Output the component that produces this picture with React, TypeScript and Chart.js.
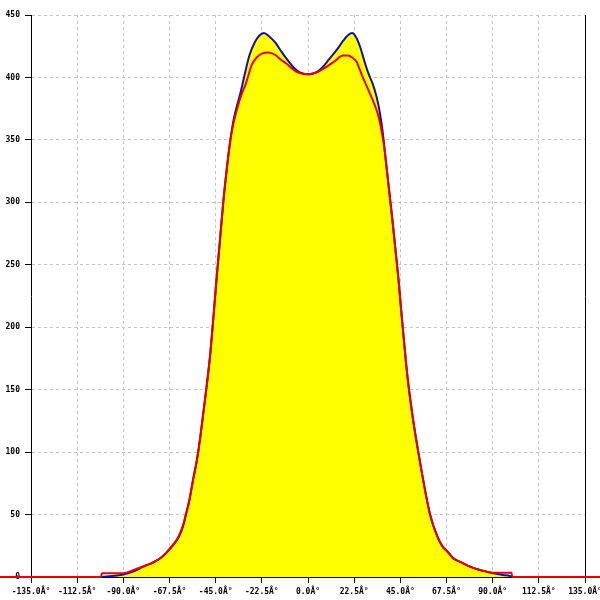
import React, { useEffect, useRef } from "react";
import { Chart, registerables } from "chart.js";

Chart.register(...registerables);

const xTickValues = [-135, -112.5, -90, -67.5, -45, -22.5, 0, 22.5, 45, 67.5, 90, 112.5, 135];
const xTickLabels = [
  "-135.0Â°", "-112.5Â°", "-90.0Â°", "-67.5Â°", "-45.0Â°", "-22.5Â°", "0.0Â°",
  "22.5Â°", "45.0Â°", "67.5Â°", "90.0Â°", "112.5Â°", "135.0Â°",
];
const yTickValues = [0, 50, 100, 150, 200, 250, 300, 350, 400, 450];

const blueAngles = [
  -100.5, -97, -93, -90, -85, -80, -75, -72, -69, -67, -65, -63, -61, -59.5, -58, -56, -54, -52.5,
  -50.2, -47.8, -46, -44.5, -43, -41.3, -39.5, -38, -36.5, -35, -33.5, -32, -30.5, -28.5, -26, -24,
  -21.5, -19, -16, -13.5, -10, -7, -4, 0, 4, 7, 10, 14, 17, 19, 21.5, 23.5, 25.5, 27.5, 29.5, 31.5,
  33.5, 35, 36.5, 38, 39.5, 41, 42.5, 44, 45.5, 47, 48.5, 51.3, 54.6, 57.8, 59.5, 61.1, 62.7,
  64.3, 66, 67.6, 70.8, 75, 79, 83, 87, 90.3, 95, 98.4, 99.5,
];
const blueValues = [
  0, 0.6, 1.2, 2, 4.5, 8.5, 12, 15, 19.5, 23, 27, 32, 40, 50, 60, 78, 95, 112,
  142, 176, 210, 240, 268, 300, 328, 348, 364, 375, 384, 394, 405, 418, 428, 433,
  435.5, 433, 428, 422, 414, 408, 404, 402.5, 404, 408, 414, 422, 429, 433, 435.5, 432, 424, 413, 403, 395,
  384, 372, 355, 332, 310, 288, 264, 240, 212, 185, 160, 125, 92, 63, 50, 41,
  34, 28, 23.5, 21, 15, 11.5, 8.3, 6, 4.3, 3, 1.6, 0.8, 0,
];

const redAngles = [
  -200, -100.8, -100.5, -90, -85, -78.6, -72, -69, -67.3, -65, -63.2, -61, -59.5, -58, -56, -54,
  -52.5, -50.2, -47.8, -46, -44.5, -43, -41.3, -39.5, -38, -36.5, -34.7, -32.5, -30.5, -29, -27.4, -25,
  -22, -19.3, -16, -13, -10.4, -7, -4, 0, 4, 9, 13, 17, 19.6, 21.5, 23.7, 25.3, 27, 28.6, 30.2,
  32.5, 34.5, 36, 37.5, 39.5, 41, 42.5, 44, 45.5, 47, 48.5, 51.3, 54.6, 57.8, 59.5, 61.1,
  62.7, 64.3, 66, 67.6, 70.8, 75, 79, 83, 87, 90, 99.2, 99.5, 200,
];
const redValues = [
  0, 0, 3, 3, 5.6, 9.6, 15, 19.5, 23, 27.5, 32, 41, 50, 60, 78, 95,
  112, 142, 176, 210, 240, 268, 300, 328, 348, 362, 374, 386, 394, 402, 410, 416,
  419.5, 420, 418, 414, 411, 406, 403.5, 402.5, 404, 408.5, 413, 417.5, 417.5, 416, 412.5, 406, 399, 393, 387,
  378, 368, 356, 340, 310, 288, 264, 240, 212, 185, 160, 125, 92, 63, 50, 41,
  34, 28, 23.5, 21, 15, 11.5, 8.3, 6, 4.3, 3.5, 3.5, 0, 0,
];

const FONT = { family: "DejaVu Sans Mono", size: 8, weight: "bold" as const };

export default function App() {
  const canvasRef = useRef<HTMLCanvasElement | null>(null);

  useEffect(() => {
    if (!canvasRef.current) return;
    const chart = new Chart(canvasRef.current, {
      type: "line",
      data: {
        datasets: [
          {
            label: "red",
            data: redAngles.map((x, i) => ({ x, y: redValues[i] })),
            borderColor: "#e80000",
            borderWidth: 2,
            pointRadius: 0,
            fill: false,
            clip: false as any,
            cubicInterpolationMode: "monotone",
          },
          {
            label: "blue",
            data: blueAngles.map((x, i) => ({ x, y: blueValues[i] })),
            borderColor: "#1010b0",
            backgroundColor: "#ffff00",
            borderWidth: 2,
            pointRadius: 0,
            fill: "origin",
            cubicInterpolationMode: "monotone",
          },
        ],
      },
      options: {
        animation: false,
        responsive: true,
        maintainAspectRatio: false,
        layout: { padding: { top: 15, right: 15, left: 0, bottom: 0 } },
        plugins: { legend: { display: false }, tooltip: { enabled: false } },
        scales: {
          x: {
            type: "linear",
            min: -135,
            max: 135,
            afterBuildTicks: (scale: any) => {
              scale.ticks = xTickValues.map((v) => ({ value: v }));
            },
            afterFit: (scale: any) => {
              scale.height = 23;
              scale.paddingLeft = 0;
              scale.paddingRight = 0;
            },
            ticks: {
              autoSkip: false,
              maxRotation: 0,
              minRotation: 0,
              color: "#000",
              font: FONT,
              padding: 4,
              callback: (_v: any, i: number) => xTickLabels[i],
            },
            grid: {
              color: "#c4c4c4",
              tickColor: "#000",
              tickLength: 6,
              lineWidth: 1,
            },
            border: { color: "#000", width: 1, dash: [3, 3] },
          },
          y: {
            type: "linear",
            min: 0,
            max: 450,
            afterBuildTicks: (scale: any) => {
              scale.ticks = yTickValues.map((v) => ({ value: v }));
            },
            afterFit: (scale: any) => {
              scale.width = 31;
            },
            ticks: {
              color: "#000",
              font: FONT,
              padding: 5,
              callback: (v: any) => String(v),
            },
            grid: {
              color: "#c4c4c4",
              tickColor: "#000",
              tickLength: 6,
              lineWidth: 1,
            },
            border: { color: "#000", width: 1, dash: [3, 3] },
          },
          y2: {
            type: "linear",
            position: "right",
            min: 0,
            max: 450,
            afterFit: (scale: any) => {
              scale.width = 0;
            },
            ticks: { display: false },
            grid: { display: false, drawTicks: false },
            border: { display: true, color: "#000", width: 1 },
          },
        },
      } as any,
    });
    return () => chart.destroy();
  }, []);

  return (
    <div style={{ position: "fixed", left: 0, top: 0, width: 600, height: 600, background: "#fff" }}>
      <canvas ref={canvasRef} />
    </div>
  );
}
